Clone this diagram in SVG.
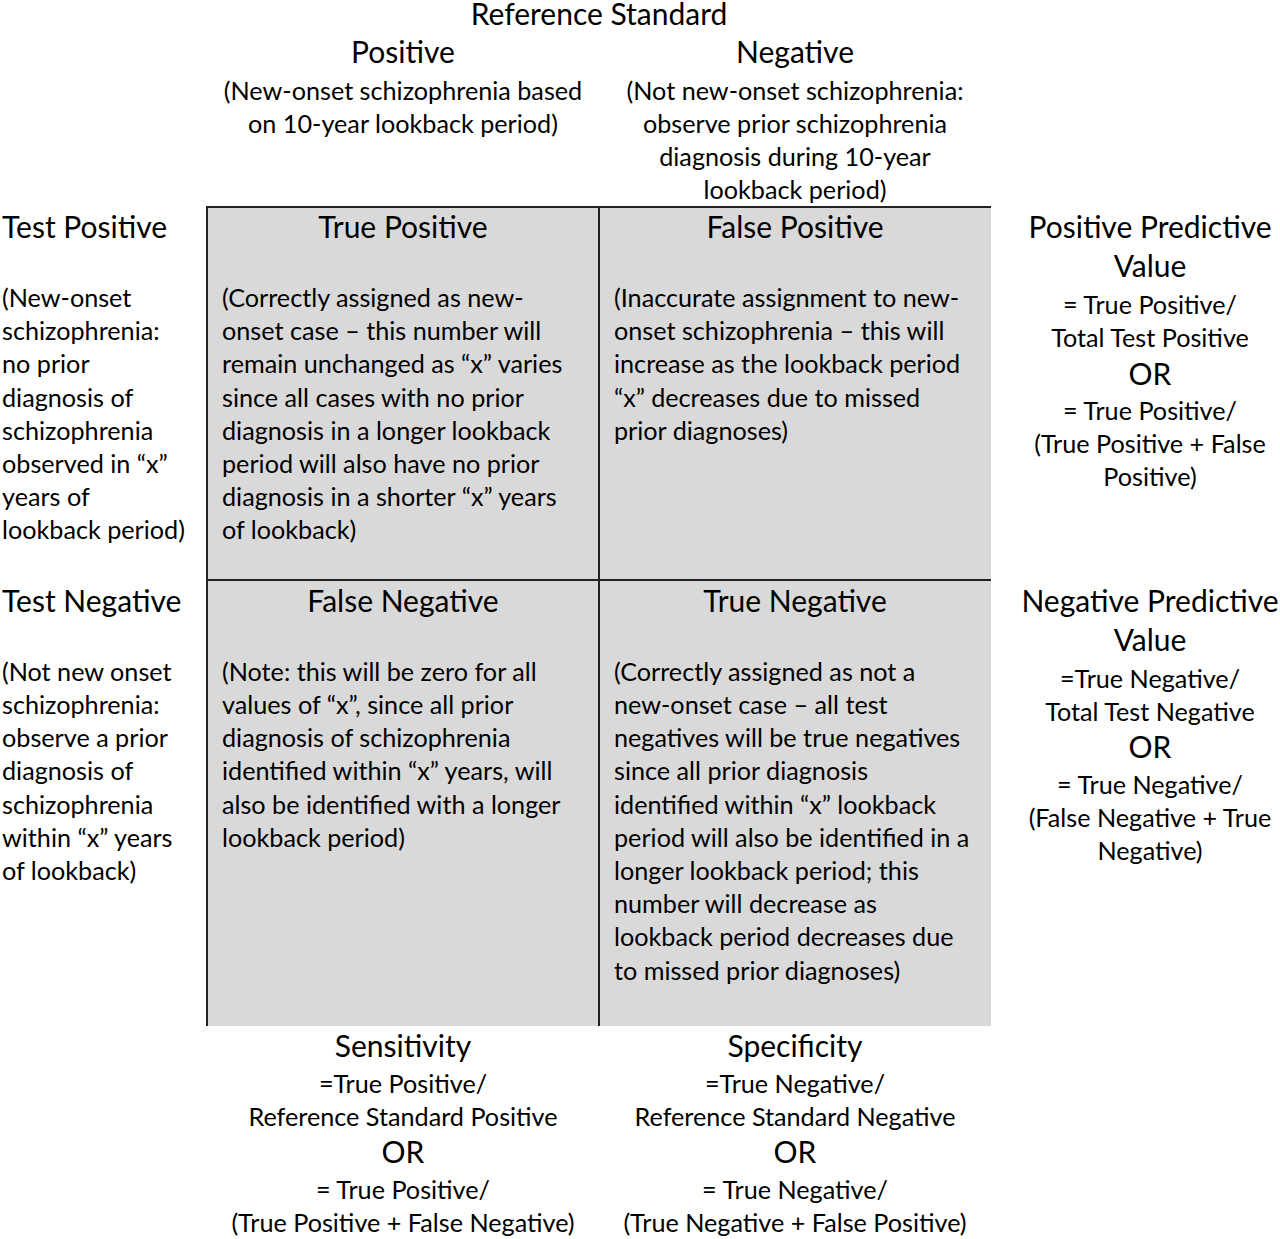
<svg xmlns="http://www.w3.org/2000/svg" width="1280" height="1239" viewBox="0 0 1280 1239">
<style>
text{font-family:Lato,"Liberation Sans",sans-serif;fill:#000}
.h{font-size:30px}
.b{font-size:25.2px}
.c{text-anchor:middle}
.grid{stroke:#222;stroke-width:2;fill:none}
.cell{fill:#d9d9d9}
</style>
<rect width="1280" height="1239" fill="#fff"/>
<g id="cells">
<rect id="cell-bg" class="cell" x="207" y="207" width="784" height="819"/>
</g>
<g id="connectors">
<line class="grid" x1="206" y1="207" x2="991" y2="207"/>
<line class="grid" x1="207" y1="207" x2="207" y2="1026"/>
<line class="grid" x1="599" y1="207" x2="599" y2="1026"/>
<line class="grid" x1="207" y1="580" x2="991" y2="580"/>
</g>
<g id="ref-standard"><text class="h c" x="599" y="25">Reference Standard</text></g>
<g id="ref-positive">
<text class="h c" x="403" y="63">Positive</text>
<text class="b c" x="403" y="100">(New-onset schizophrenia based</text>
<text class="b c" x="403" y="133">on 10-year lookback period)</text>
</g>
<g id="ref-negative">
<text class="h c" x="795" y="63">Negative</text>
<text class="b c" x="795" y="100">(Not new-onset schizophrenia:</text>
<text class="b c" x="795" y="133">observe prior schizophrenia</text>
<text class="b c" x="795" y="166">diagnosis during 10-year</text>
<text class="b c" x="795" y="199">lookback period)</text>
</g>
<g id="test-positive">
<text class="h" x="2" y="238">Test Positive</text>
<text class="b" x="2" y="307">(New-onset</text>
<text class="b" x="2" y="340">schizophrenia:</text>
<text class="b" x="2" y="373">no prior</text>
<text class="b" x="2" y="407">diagnosis of</text>
<text class="b" x="2" y="440">schizophrenia</text>
<text class="b" x="2" y="473">observed in “x”</text>
<text class="b" x="2" y="506">years of</text>
<text class="b" x="2" y="539">lookback period)</text>
</g>
<g id="true-positive">
<text class="h c" x="403" y="238">True Positive</text>
<text class="b" x="222" y="307">(Correctly assigned as new-</text>
<text class="b" x="222" y="340">onset case – this number will</text>
<text class="b" x="222" y="373">remain unchanged as “x” varies</text>
<text class="b" x="222" y="407">since all cases with no prior</text>
<text class="b" x="222" y="440">diagnosis in a longer lookback</text>
<text class="b" x="222" y="473">period will also have no prior</text>
<text class="b" x="222" y="506">diagnosis in a shorter “x” years</text>
<text class="b" x="222" y="539">of lookback)</text>
</g>
<g id="false-positive">
<text class="h c" x="795" y="238">False Positive</text>
<text class="b" x="614" y="307">(Inaccurate assignment to new-</text>
<text class="b" x="614" y="340">onset schizophrenia – this will</text>
<text class="b" x="614" y="373">increase as the lookback period</text>
<text class="b" x="614" y="407">“x” decreases due to missed</text>
<text class="b" x="614" y="440">prior diagnoses)</text>
</g>
<g id="ppv">
<text class="h c" x="1150" y="238">Positive Predictive</text>
<text class="h c" x="1150" y="277">Value</text>
<text class="b c" x="1150" y="314">= True Positive/</text>
<text class="b c" x="1150" y="347">Total Test Positive</text>
<text class="h c" x="1150" y="385">OR</text>
<text class="b c" x="1150" y="420">= True Positive/</text>
<text class="b c" x="1150" y="453">(True Positive + False</text>
<text class="b c" x="1150" y="486">Positive)</text>
</g>
<g id="test-negative">
<text class="h" x="2" y="612">Test Negative</text>
<text class="b" x="2" y="681">(Not new onset</text>
<text class="b" x="2" y="714">schizophrenia:</text>
<text class="b" x="2" y="747">observe a prior</text>
<text class="b" x="2" y="780">diagnosis of</text>
<text class="b" x="2" y="814">schizophrenia</text>
<text class="b" x="2" y="847">within “x” years</text>
<text class="b" x="2" y="880">of lookback)</text>
</g>
<g id="false-negative">
<text class="h c" x="403" y="612">False Negative</text>
<text class="b" x="222" y="681">(Note: this will be zero for all</text>
<text class="b" x="222" y="714">values of “x”, since all prior</text>
<text class="b" x="222" y="747">diagnosis of schizophrenia</text>
<text class="b" x="222" y="780">identified within “x” years, will</text>
<text class="b" x="222" y="814">also be identified with a longer</text>
<text class="b" x="222" y="847">lookback period)</text>
</g>
<g id="true-negative">
<text class="h c" x="795" y="612">True Negative</text>
<text class="b" x="614" y="681">(Correctly assigned as not a</text>
<text class="b" x="614" y="714">new-onset case – all test</text>
<text class="b" x="614" y="747">negatives will be true negatives</text>
<text class="b" x="614" y="780">since all prior diagnosis</text>
<text class="b" x="614" y="814">identified within “x” lookback</text>
<text class="b" x="614" y="847">period will also be identified in a</text>
<text class="b" x="614" y="880">longer lookback period; this</text>
<text class="b" x="614" y="913">number will decrease as</text>
<text class="b" x="614" y="946">lookback period decreases due</text>
<text class="b" x="614" y="980">to missed prior diagnoses)</text>
</g>
<g id="npv">
<text class="h c" x="1150" y="612">Negative Predictive</text>
<text class="h c" x="1150" y="651">Value</text>
<text class="b c" x="1150" y="688">=True Negative/</text>
<text class="b c" x="1150" y="721">Total Test Negative</text>
<text class="h c" x="1150" y="758">OR</text>
<text class="b c" x="1150" y="794">= True Negative/</text>
<text class="b c" x="1150" y="827">(False Negative + True</text>
<text class="b c" x="1150" y="860">Negative)</text>
</g>
<g id="sensitivity">
<text class="h c" x="403" y="1057">Sensitivity</text>
<text class="b c" x="403" y="1093">=True Positive/</text>
<text class="b c" x="403" y="1126">Reference Standard Positive</text>
<text class="h c" x="403" y="1163">OR</text>
<text class="b c" x="403" y="1199">= True Positive/</text>
<text class="b c" x="403" y="1232">(True Positive + False Negative)</text>
</g>
<g id="specificity">
<text class="h c" x="795" y="1057">Specificity</text>
<text class="b c" x="795" y="1093">=True Negative/</text>
<text class="b c" x="795" y="1126">Reference Standard Negative</text>
<text class="h c" x="795" y="1163">OR</text>
<text class="b c" x="795" y="1199">= True Negative/</text>
<text class="b c" x="795" y="1232">(True Negative + False Positive)</text>
</g>
</svg>
